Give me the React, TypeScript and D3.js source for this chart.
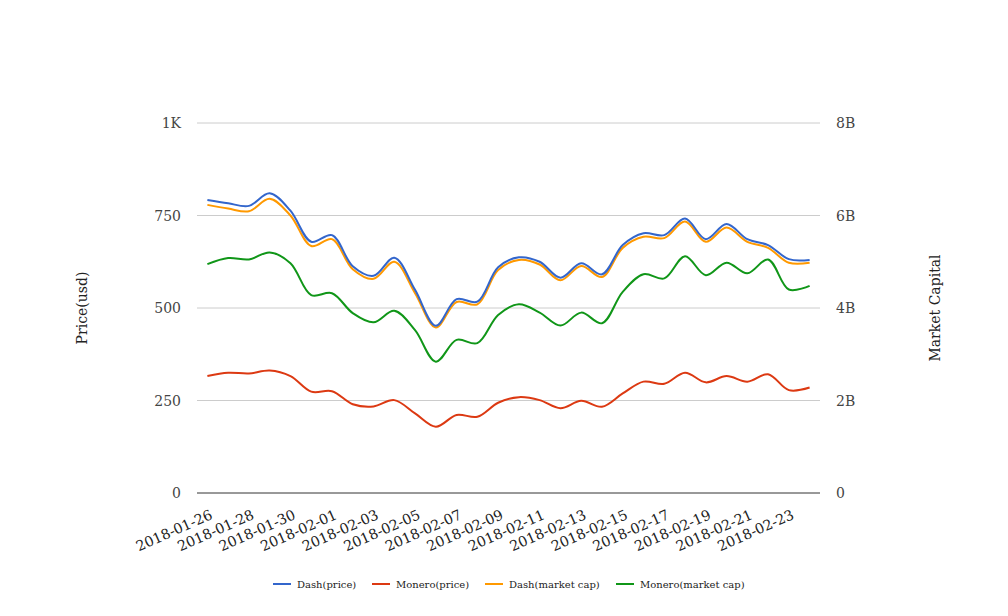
import React from "react";
import * as d3 from "d3";

const dates = [
  "2018-01-26","2018-01-27","2018-01-28","2018-01-29","2018-01-30","2018-01-31",
  "2018-02-01","2018-02-02","2018-02-03","2018-02-04","2018-02-05","2018-02-06",
  "2018-02-07","2018-02-08","2018-02-09","2018-02-10","2018-02-11","2018-02-12",
  "2018-02-13","2018-02-14","2018-02-15","2018-02-16","2018-02-17","2018-02-18",
  "2018-02-19","2018-02-20","2018-02-21","2018-02-22","2018-02-23","2018-02-24",
];

const dashPrice = [792,783,776,810,763,679,697,613,587,636,549,452,524,517,610,637,625,582,621,591,670,702,697,742,686,727,686,670,632,630];
const moneroPrice = [316,325,323,331,316,274,275,240,234,251,215,179,211,206,244,259,251,229,249,233,269,301,295,325,299,316,301,321,278,285];
// market caps in billions of USD
const dashCap = [6.23,6.15,6.09,6.36,6.0,5.34,5.49,4.84,4.63,5.0,4.32,3.58,4.13,4.08,4.82,5.04,4.94,4.6,4.91,4.67,5.3,5.54,5.51,5.87,5.43,5.74,5.43,5.3,4.98,4.98];
const moneroCap = [4.95,5.08,5.05,5.2,4.97,4.28,4.32,3.89,3.69,3.94,3.52,2.84,3.31,3.24,3.85,4.08,3.9,3.62,3.9,3.67,4.35,4.73,4.64,5.12,4.71,4.98,4.75,5.05,4.4,4.48];

const leftTicks = [0, 250, 500, 750, 1000];
const leftTickLabels = ["0", "250", "500", "750", "1K"];
const rightTicks = [0, 2, 4, 6, 8];
const rightTickLabels = ["0", "2B", "4B", "6B", "8B"];

const seriesNames = ["Dash(price)", "Monero(price)", "Dash(market cap)", "Monero(market cap)"];
const colors = ["#3366cc", "#dc3912", "#ff9900", "#109618"];

const W = 1008, H = 616;
const L = 197, R = 820, T = 123, B = 493;
const FONT = "'DejaVu Serif', serif";

export default function App() {
  const x = d3.scalePoint<string>().domain(dates).range([L, R]).padding(0.5);
  const yL = d3.scaleLinear().domain([0, 1000]).range([B, T]);
  const yR = d3.scaleLinear().domain([0, 8]).range([B, T]);

  const curve = d3.curveCatmullRom.alpha(0.5);
  const lineL = d3.line<number>().x((_, i) => x(dates[i])!).y((d) => yL(d)).curve(curve);
  const lineR = d3.line<number>().x((_, i) => x(dates[i])!).y((d) => yR(d)).curve(curve);

  const series = [
    { name: seriesNames[0], color: colors[0], d: lineL(dashPrice) },
    { name: seriesNames[1], color: colors[1], d: lineL(moneroPrice) },
    { name: seriesNames[2], color: colors[2], d: lineR(dashCap) },
    { name: seriesNames[3], color: colors[3], d: lineR(moneroCap) },
  ];
  const drawOrder = [3, 2, 1, 0];

  const legendItems = [
    { name: seriesNames[0], color: colors[0], x: 273 },
    { name: seriesNames[1], color: colors[1], x: 372 },
    { name: seriesNames[2], color: colors[2], x: 485 },
    { name: seriesNames[3], color: colors[3], x: 616 },
  ];

  return (
    <svg width={W} height={H} style={{ position: "absolute", left: 0, top: 0, background: "#fff" }} fontFamily={FONT}>
      <rect x={0} y={0} width={W} height={H} fill="#fff" />
      {leftTicks.slice(1).map((t) => (
        <line key={t} x1={L} x2={R} y1={yL(t)} y2={yL(t)} stroke="#cccccc" strokeWidth={1} />
      ))}
      <line x1={L} x2={R} y1={B} y2={B} stroke="#333333" strokeWidth={1} />
      {leftTicks.map((t, i) => (
        <text key={t} x={181} y={yL(t)} dy="0.36em" textAnchor="end" fontSize={14} fill="#444">
          {leftTickLabels[i]}
        </text>
      ))}
      {rightTicks.map((t, i) => (
        <text key={t} x={836} y={yR(t)} dy="0.36em" textAnchor="start" fontSize={14} fill="#444">
          {rightTickLabels[i]}
        </text>
      ))}
      {dates.map((dt, i) =>
        i % 2 === 0 ? (
          <text
            key={dt}
            transform={`translate(${x(dt)! + 2},${509}) rotate(-24)`}
            dy="0.71em"
            textAnchor="end"
            fontSize={14.2}
            fill="#222"
          >
            {dt}
          </text>
        ) : null
      )}
      <text transform={`translate(87,308) rotate(-90)`} textAnchor="middle" fontSize={14} fill="#222">
        Price(usd)
      </text>
      <text transform={`translate(940,308) rotate(-90)`} textAnchor="middle" fontSize={14} fill="#222">
        Market Capital
      </text>
      {drawOrder.map((k) => (
        <path key={k} d={series[k].d || ""} fill="none" stroke={series[k].color} strokeWidth={2} />
      ))}
      {legendItems.map((it) => (
        <g key={it.name}>
          <line x1={it.x} x2={it.x + 18} y1={584} y2={584} stroke={it.color} strokeWidth={2} />
          <text x={it.x + 24} y={584} dy="0.35em" fontSize={10} fill="#222">
            {it.name}
          </text>
        </g>
      ))}
    </svg>
  );
}
